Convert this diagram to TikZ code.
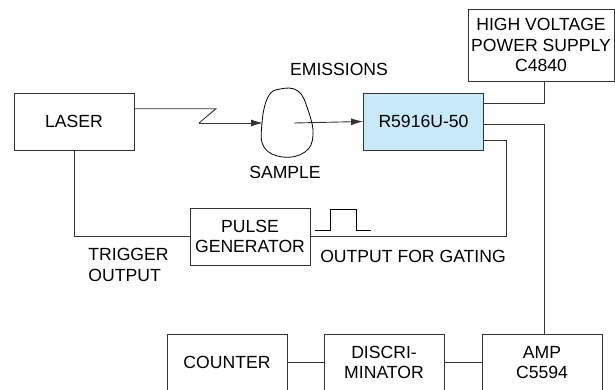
\documentclass[tikz,border=0pt]{standalone}
\usepackage{fontspec}
\setmainfont{Liberation Sans}
\usetikzlibrary{arrows.meta,calc}
\definecolor{pmtblue}{RGB}{200,233,248}

\begin{document}
\begin{tikzpicture}[x=1pt,y=-1pt,line width=0.9pt,
    box/.style={draw=black!80,minimum width=120pt,minimum height=57pt,inner sep=0pt,align=center,
        font=\fontsize{17.6}{20.8}\selectfont},
    lbl/.style={inner sep=0pt,align=center,font=\fontsize{17.6}{20.8}\selectfont},
    wire/.style={draw=black!80},
    ray/.style={-{Latex[length=12pt,width=7pt]}}]
    \useasboundingbox (0,0) rectangle (615,389);
    \clip (0,0) rectangle (615,389);

    % blocks
    \node[box] (laser) at (74,121.5) {LASER};
    \node[box,fill=pmtblue] (pmt) at (423.5,121.5) {R5916U-50};
    \node[box,minimum width=146pt,minimum height=72pt] (hv) at (541,45) {HIGH VOLTAGE\\POWER SUPPLY\\C4840};
    \node[box] (pulse) at (250,236.5) {PULSE\\GENERATOR};
    \node[box] (counter) at (227,362.5) {COUNTER};
    \node[box] (discri) at (384,362.5) {DISCRI-\\MINATOR};
    \node[box] (amp) at (542,362.5) {AMP\\C5594};

    \coordinate (kink) at (216,108.7);
    \coordinate (bend) at (199,123);
    \coordinate (emit) at (294,123);
    \coordinate (hvtap) at (544,103);
    \coordinate (sigtap) at (544,124);
    \coordinate (gatetap) at (506,140);

    % sample
    \draw[line width=0.8pt] plot[smooth cycle,tension=0.7] coordinates
        {(262,123) (264,147) (283,157) (305,152) (313,135) (308,110) (298,91) (280,89) (268,97)};
    \node[lbl] (emis) at (339,69) {EMISSIONS};
    \node[lbl] (samp) at (285,172) {SAMPLE};

    % light path
    \draw[wire] ([yshift=12.8pt]laser.east) -- (kink) -- (bend);
    \draw[wire,ray] (bend) -- (263,123);
    \draw[wire,ray] (emit) -- (pmt.west);

    % wiring
    \draw[wire] (pmt.east |- hvtap) -- (hvtap) -- (hvtap |- hv.south);
    \draw[wire] (pmt.east |- sigtap) -- (sigtap) -- (sigtap |- amp.north);
    \draw[wire] (pmt.east |- gatetap) -- (gatetap) -- (gatetap |- pulse.east) -- (pulse.east);
    \draw[wire] (laser.south) -- (laser.south |- pulse.west) -- (pulse.west);
    \draw[wire] (counter.east) -- (discri.west);
    \draw[wire] (discri.east) -- (amp.west);

    % gate pulse
    \draw[line width=0.8pt] (315,230) -- (330,230) -- (330,209) -- (356,209) -- (356,230) -- (371,230);

    \node[lbl,align=left,anchor=west] (trig) at (88,265) {TRIGGER\\OUTPUT};
    \node[lbl] (gate) at (413,256) {OUTPUT FOR GATING};
\end{tikzpicture}
\end{document}
